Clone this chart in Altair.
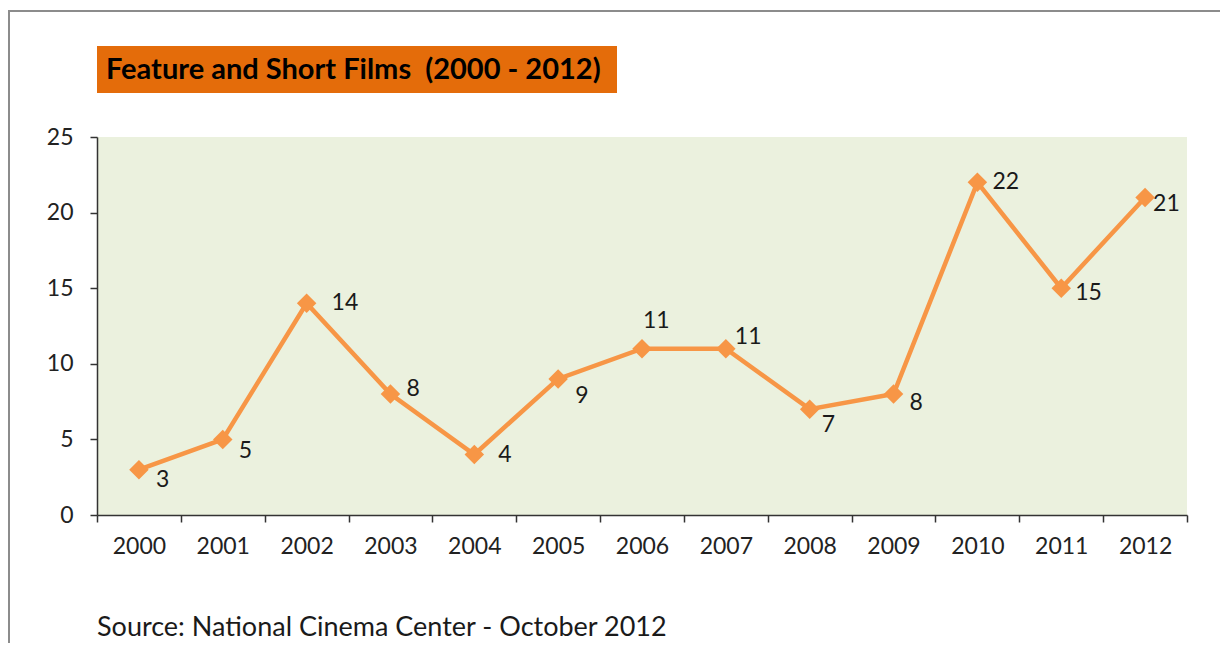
import altair as alt
import pandas as pd

years = ["2000", "2001", "2002", "2003", "2004", "2005", "2006",
         "2007", "2008", "2009", "2010", "2011", "2012"]
films = [3, 5, 14, 8, 4, 9, 11, 11, 7, 8, 22, 15, 21]
y_ticks = [0, 5, 10, 15, 20, 25]

title_text = "Feature and Short Films\u00a0 (2000 - 2012)"
source_text = "Source: National Cinema Center - October 2012"

# label placement (pixel nudges from each marker, like the manual Excel placement)
label_nudge = {
    "2000": (17, 10), "2001": (16, 12), "2002": (25, 0), "2003": (16, -5),
    "2004": (24, 0), "2005": (17, 17), "2006": (1, -28), "2007": (9, -12),
    "2008": (12, 16), "2009": (16, 9), "2010": (15, 0), "2011": (14, 5),
    "2012": (8, 7),
}

ORANGE = "#F79646"
FONT = "Lato"
W, H = 1090, 378

df = pd.DataFrame({"year": years, "films": films})

x_enc = alt.X("year:N", sort=years,
              scale=alt.Scale(type="band", paddingInner=0, paddingOuter=0),
              axis=alt.Axis(title=None, labelAngle=0, tickBand="extent",
                            labelPadding=13))
y_enc = alt.Y("films:Q", scale=alt.Scale(domain=[0, 25], nice=False),
              axis=alt.Axis(title=None, values=y_ticks, grid=False,
                            labelPadding=17))

base = alt.Chart(df)

line = base.mark_line(color=ORANGE, strokeWidth=4.5).encode(x=x_enc, y=y_enc)
pts = base.mark_point(shape="diamond", filled=True, size=380, color=ORANGE,
                      opacity=1).encode(x=x_enc, y=y_enc)

label_layers = []
for yr in years:
    dx, dy = label_nudge[yr]
    label_layers.append(
        base.transform_filter(alt.datum.year == yr)
        .mark_text(align="left", baseline="middle", dx=dx, dy=dy,
                   fontSize=23, font=FONT, color="#1a1a1a")
        .encode(x=x_enc, y=y_enc, text="films:Q")
    )

deco = alt.Chart(pd.DataFrame({"t": [title_text], "s": [source_text]}))

border = deco.mark_rect(filled=False, stroke="#8c8c8c", strokeWidth=2).encode(
    x=alt.value(-88), x2=alt.value(1200), y=alt.value(-126), y2=alt.value(620))

title_box = deco.mark_rect(color="#E46C0A").encode(
    x=alt.value(0), x2=alt.value(520), y=alt.value(-91), y2=alt.value(-44))
title_lbl = deco.mark_text(align="left", baseline="middle", fontSize=29,
                           fontWeight="bold", font=FONT, color="#000000").encode(
    x=alt.value(9), y=alt.value(-67), text="t:N")
source_lbl = deco.mark_text(align="left", baseline="alphabetic", fontSize=27,
                            font=FONT, color="#1a1a1a").encode(
    x=alt.value(0), y=alt.value(499), text="s:N")

chart = alt.layer(border, title_box, title_lbl, source_lbl, line, pts,
                  *label_layers).properties(
    width=W, height=H,
    autosize=alt.AutoSizeParams(type="none"),
    padding={"left": 89, "top": 129, "right": 33, "bottom": 128},
    background="white",
).configure_view(
    fill="#EBF1DE", stroke=None
).configure_axis(
    domainColor="#333333", domainWidth=1.5, tickColor="#333333",
    tickWidth=1.5, tickSize=7, labelFont=FONT, labelFontSize=23,
    labelColor="#222222",
)

chart.save("out.html", embed_options={"renderer": "svg", "actions": False})
